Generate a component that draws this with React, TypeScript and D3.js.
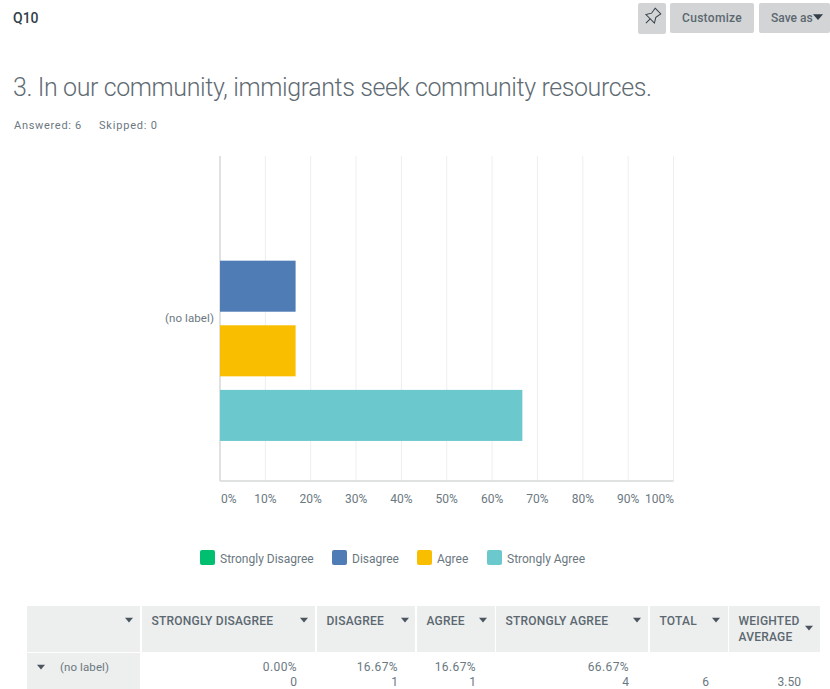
import React from "react";
import * as d3 from "d3";

const seriesNames = ["Strongly Disagree", "Disagree", "Agree", "Strongly Agree"];
const seriesPercent = [0, 16.67, 16.67, 66.67];
const seriesCounts = [0, 1, 1, 4];
const seriesColors = ["#00BF6F", "#507CB6", "#F9BE00", "#6BC8CD"];
const percentTicks = [0, 10, 20, 30, 40, 50, 60, 70, 80, 90, 100];
const rowLabel = "(no label)";
const answered = 6;
const skipped = 0;
const weightedAverage = "3.50";

const FONT = "Roboto, 'Noto Sans', sans-serif";
const TEXT = "#6b787f";
const DARK = "#333e48";
const HEAD_BG = "#edeeee";

const x = d3.scaleLinear().domain([0, 100]).range([220, 673.5]);
const y = d3
  .scaleBand<string>()
  .domain(seriesNames)
  .range([156, 481])
  .paddingInner(0.21)
  .paddingOuter(0.62);

// Column boundaries of the summary table
const columns = [
  { x: 27, w: 113, head: [""] },
  { x: 142, w: 173, head: ["STRONGLY DISAGREE"] },
  { x: 317, w: 98, head: ["DISAGREE"] },
  { x: 417, w: 78, head: ["AGREE"] },
  { x: 496, w: 152, head: ["STRONGLY AGREE"] },
  { x: 650, w: 78, head: ["TOTAL"] },
  { x: 729, w: 91, head: ["WEIGHTED", "AVERAGE"] },
];
const caretX = [129, 304, 405, 483, 637, 716, 809];
const caretY = [620, 620, 620, 620, 620, 620, 628];
const legendX = [200, 332, 417, 487];
const pctRight = [297, 398, 476, 629];

function Caret({ cx, cy, size = 4, fill = "#4a5560" }: { cx: number; cy: number; size?: number; fill?: string }) {
  const path = d3.path();
  path.moveTo(cx - size, cy - size * 0.55);
  path.lineTo(cx + size, cy - size * 0.55);
  path.lineTo(cx, cy + size * 0.6);
  path.closePath();
  return <path d={path.toString()} fill={fill} />;
}

export default function App() {
  return (
    <svg
      width={830}
      height={689}
      viewBox="0 0 830 689"
      style={{ position: "absolute", left: 0, top: 0, display: "block", background: "#fff" }}
      fontFamily={FONT}
    >
      {/* Page header */}
      <text x={13} y={23} fontSize={14} fontWeight={500} fill={DARK}>Q10</text>
      <rect x={638} y={3} width={28} height={31} rx={2} fill="#d3d4d5" />
      <g transform="translate(653 16) rotate(45)" fill="none" stroke="#333e48" strokeWidth={1}>
        <path d="M-4 -7 H4 L3 -1 L6 4 H-6 L-3 -1 Z" />
        <path d="M0 4 V10" />
      </g>
      <rect x={670} y={3} width={84} height={30} rx={2} fill="#d3d4d5" />
      <text x={712} y={22} fontSize={12} fontWeight={500} fill="#5b6870" textAnchor="middle" letterSpacing={0.3}>Customize</text>
      <rect x={759} y={3} width={71} height={30} rx={2} fill="#d3d4d5" />
      <text x={771} y={22} fontSize={12} fontWeight={500} fill="#5b6870">Save as</text>
      <Caret cx={818} cy={17} size={5} fill="#333e48" />

      <text x={13} y={96} fontSize={25} fontWeight={300} fill="#5f6b73" textLength={639} lengthAdjust="spacing">
        3. In our community, immigrants seek community resources.
      </text>
      <text x={14} y={129} fontSize={11} fill={TEXT} letterSpacing={0.7}>Answered: {answered}</text>
      <text x={99} y={129} fontSize={11} fill={TEXT} letterSpacing={0.8}>Skipped: {skipped}</text>

      {/* Gridlines and axis */}
      {percentTicks.map((t) => (
        <line
          key={t}
          x1={x(t)}
          x2={x(t)}
          y1={156}
          y2={481}
          stroke={t === 0 ? "#d6d8d9" : "#edeeee"}
          strokeWidth={t === 0 ? 1.5 : 1}
        />
      ))}
      <line x1={220} x2={673.5} y1={481} y2={481} stroke="#d6d8d9" strokeWidth={1.5} />

      {/* Bars */}
      {seriesNames.map((name, i) => (
        <rect
          key={name}
          x={x(0)}
          y={y(name)}
          width={x(seriesPercent[i]) - x(0)}
          height={y.bandwidth()}
          fill={seriesColors[i]}
        />
      ))}
      <text x={214} y={322} fontSize={11.5} fill={TEXT} textAnchor="end" letterSpacing={0.1}>{rowLabel}</text>

      {/* Percent tick labels; the end labels are pulled inward */}
      {percentTicks.map((t) => (
        <text
          key={t}
          x={t === 0 ? 221 : t === 100 ? 674 : x(t)}
          y={503}
          fontSize={12}
          fill={TEXT}
          textAnchor={t === 0 ? "start" : t === 100 ? "end" : "middle"}
        >
          {t}%
        </text>
      ))}

      {/* Legend */}
      {seriesNames.map((name, i) => (
        <g key={name}>
          <rect x={legendX[i]} y={550} width={15} height={15} rx={2} fill={seriesColors[i]} />
          <text x={legendX[i] + 20} y={563} fontSize={12} fill={TEXT}>{name}</text>
        </g>
      ))}

      {/* Summary table */}
      {columns.map((c, i) => (
        <g key={i}>
          <rect x={c.x} y={606} width={c.w} height={46} fill={HEAD_BG} />
          {c.head.map((line, j) => (
            <text
              key={j}
              x={c.x + (i === 0 ? 0 : 9.5)}
              y={625 + j * 16}
              fontSize={12}
              fontWeight={500}
              fill="#5b6870"
              letterSpacing={0.22}
            >
              {line}
            </text>
          ))}
          <Caret cx={caretX[i]} cy={caretY[i]} />
        </g>
      ))}
      <rect x={27} y={653} width={113} height={36} fill={HEAD_BG} />
      <Caret cx={41} cy={667} />
      <text x={60} y={671} fontSize={11.5} fill={TEXT} letterSpacing={0.1}>{rowLabel}</text>
      {seriesNames.map((name, i) => (
        <g key={name} fontSize={12} fill={TEXT} textAnchor="end">
          <text x={pctRight[i]} y={671} letterSpacing={0.4}>{seriesPercent[i].toFixed(2)}%</text>
          <text x={pctRight[i]} y={686}>{seriesCounts[i]}</text>
        </g>
      ))}
      <text x={709} y={686} fontSize={12} fill={TEXT} textAnchor="end">{answered}</text>
      <text x={801} y={686} fontSize={12} fill={TEXT} textAnchor="end">{weightedAverage}</text>
    </svg>
  );
}
